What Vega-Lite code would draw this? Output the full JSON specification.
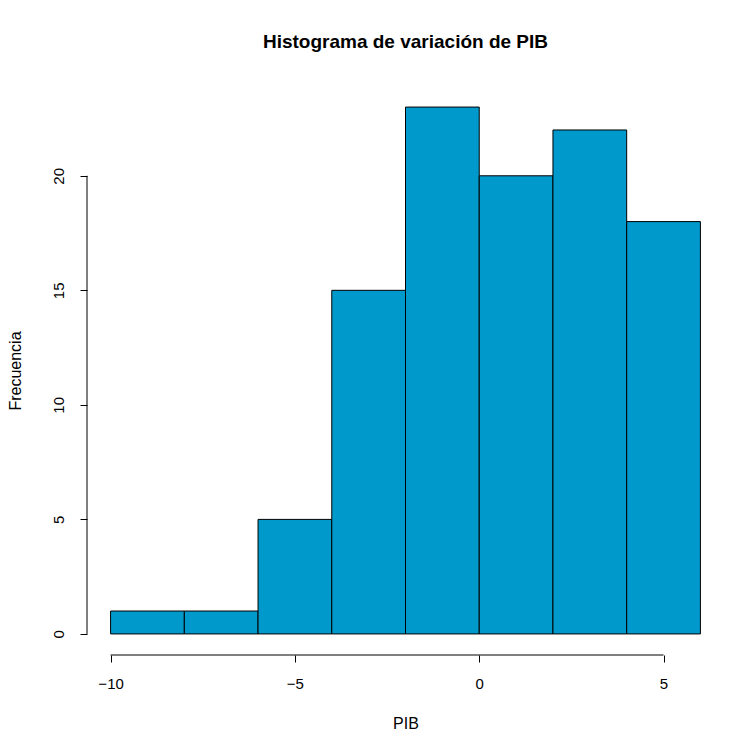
{
  "$schema": "https://vega.github.io/schema/vega-lite/v6.json",
  "autosize": {"type": "none"},
  "width": 637,
  "height": 569,
  "padding": {"left": 87, "top": 86, "right": 12, "bottom": 97},
  "background": "white",
  "title": {"text": "Histograma de variación de PIB", "font": "Liberation Sans", "fontSize": 19, "fontWeight": "bold", "anchor": "middle", "offset": 34, "color": "black"},
  "config": {"view": {"stroke": null}, "font": "Liberation Sans"},
  "layer": [
    {
      "data": {"values": [
        {"inicio": -10, "fin": -8, "frecuencia": 1},
        {"inicio": -8, "fin": -6, "frecuencia": 1},
        {"inicio": -6, "fin": -4, "frecuencia": 5},
        {"inicio": -4, "fin": -2, "frecuencia": 15},
        {"inicio": -2, "fin": 0, "frecuencia": 23},
        {"inicio": 0, "fin": 2, "frecuencia": 20},
        {"inicio": 2, "fin": 4, "frecuencia": 22},
        {"inicio": 4, "fin": 6, "frecuencia": 18}
      ]},
      "mark": {"type": "rect", "fill": "#0099CC", "stroke": "black", "strokeWidth": 1},
      "encoding": {
        "x": {"field": "inicio", "type": "quantitative",
          "scale": {"domain": [-10.64, 6.64], "nice": false, "zero": false},
          "axis": {"values": [-10, -5, 0, 5], "domain": false, "grid": false, "tickColor": "black", "tickSize": 7, "labelPadding": 14, "labelFontSize": 15, "labelColor": "black", "title": "PIB", "titleFontSize": 16, "titleFontWeight": "normal", "titleColor": "black", "titlePadding": 24}},
        "x2": {"field": "fin"},
        "y": {"field": "frecuencia", "type": "quantitative",
          "scale": {"domain": [-0.92, 23.92], "nice": false, "zero": false},
          "axis": {"values": [0, 5, 10, 15, 20], "domain": false, "grid": false, "tickColor": "black", "tickSize": 7, "labelAngle": -90, "labelAlign": "center", "labelBaseline": "bottom", "labelPadding": 14, "labelFontSize": 15, "labelColor": "black", "title": "Frecuencia", "titleFontSize": 16, "titleFontWeight": "normal", "titleColor": "black", "titlePadding": 28}},
        "y2": {"datum": 0}
      }
    },
    {
      "data": {"values": [{"a": -10, "b": 5, "y": -0.92}]},
      "mark": {"type": "rule", "color": "black"},
      "encoding": {
        "x": {"field": "a", "type": "quantitative"},
        "x2": {"field": "b"},
        "y": {"field": "y", "type": "quantitative"}
      }
    },
    {
      "data": {"values": [{"a": 0, "b": 20, "x": -10.64}]},
      "mark": {"type": "rule", "color": "black"},
      "encoding": {
        "y": {"field": "a", "type": "quantitative"},
        "y2": {"field": "b"},
        "x": {"field": "x", "type": "quantitative"}
      }
    }
  ]
}
